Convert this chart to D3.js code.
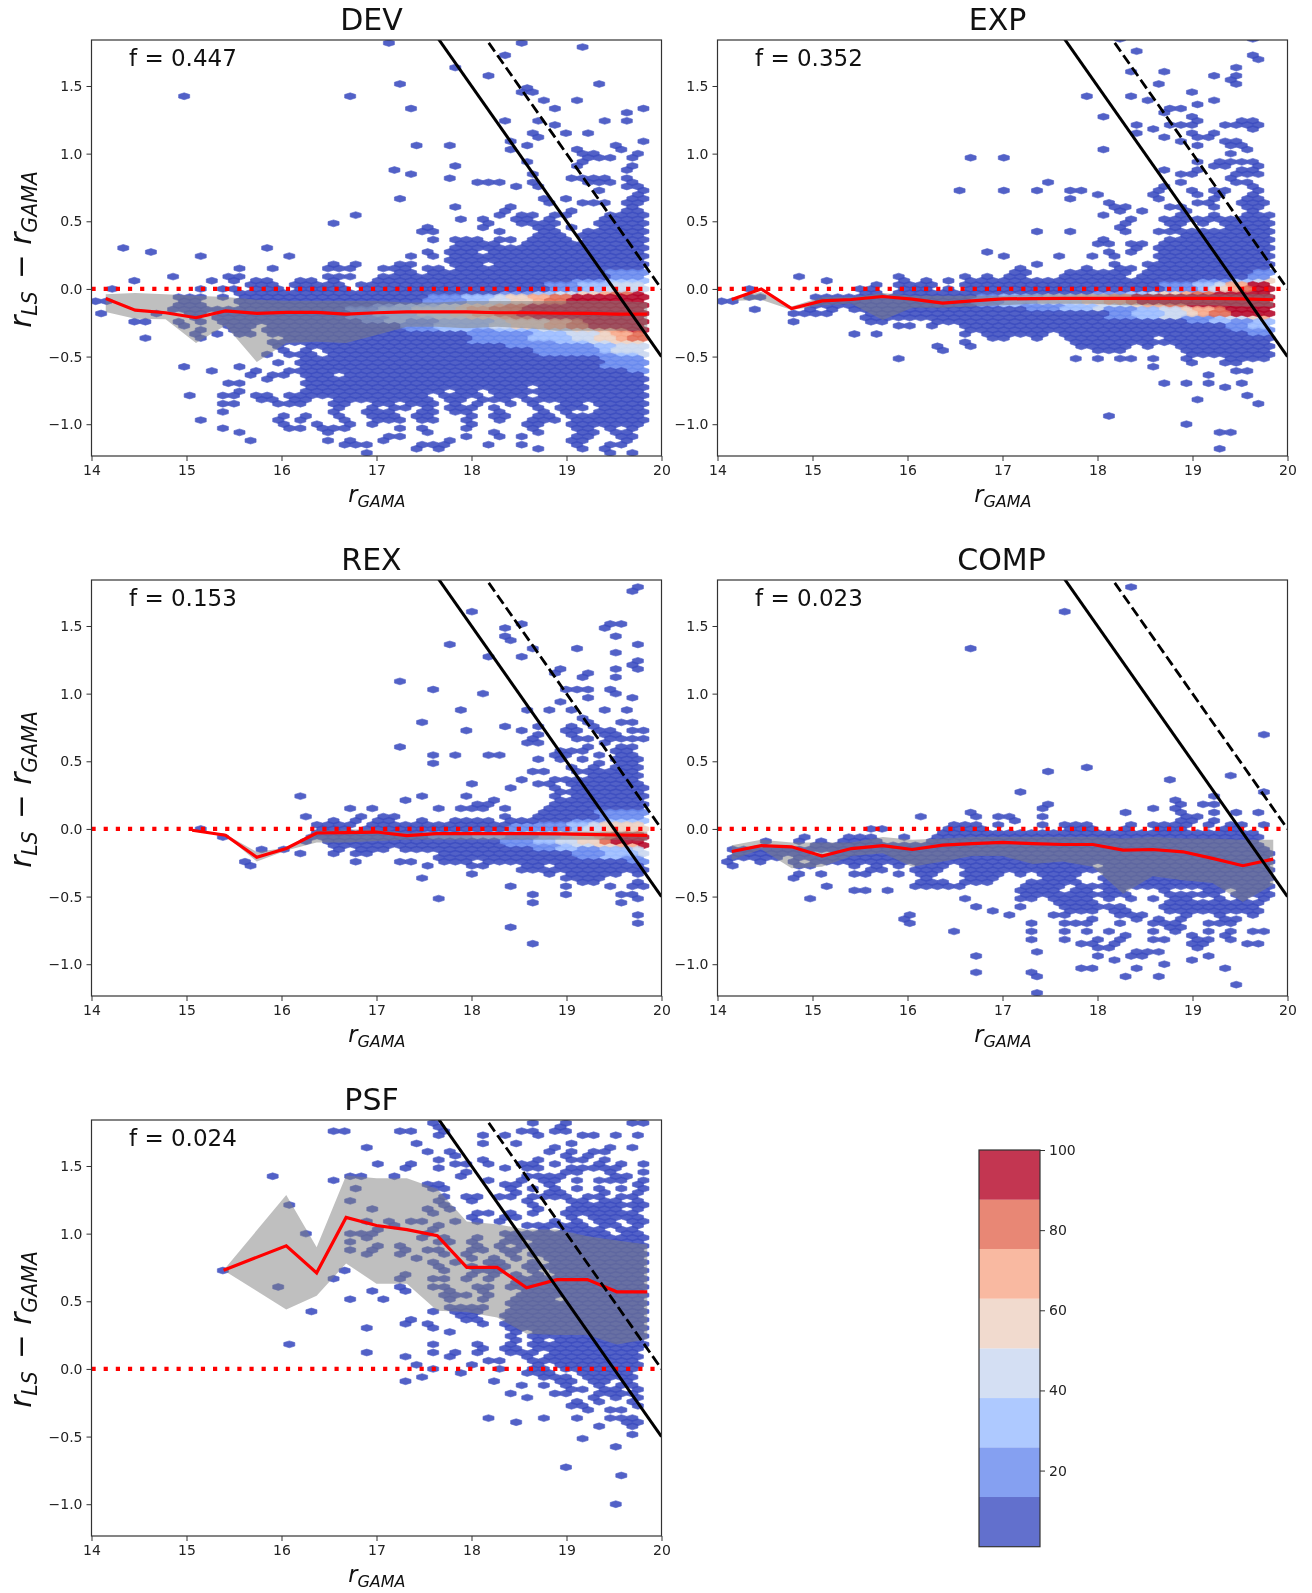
<!DOCTYPE html>
<html>
<head>
<meta charset="utf-8">
<script src="https://cdn.jsdelivr.net/npm/d3@7"></script>
<style>
body { margin: 0; background: white; }
svg { display: block; filter: blur(0.5px); }
text { font-family: "DejaVu Sans"; fill: #111; }
.tick text { font-size: 14px; fill: #222; }
</style>
</head>
<body>
<svg></svg>
<script>
// axis ticks
var xTicks = [14, 15, 16, 17, 18, 19, 20]
var yTicks = [-1, -0.5, 0, 0.5, 1, 1.5]
var cbTicks = [20, 40, 60, 80, 100]

// colorbar levels (coolwarm, 8 steps)
var cbEdges = [1, 13.4, 25.8, 38.1, 50.5, 62.9, 75.3, 87.6, 100]
var cbColors = ["#3b4cc0", "#6788ee", "#9abbff", "#c9d7f0", "#edd1c2", "#f7a889", "#e26952", "#b40426"]

var panelNames = ["DEV", "EXP", "REX", "COMP", "PSF"]
var panelFracs = ["f = 0.447", "f = 0.352", "f = 0.153", "f = 0.023", "f = 0.024"]

// x of the running median bins
var binX = [14.15, 14.46, 14.78, 15.1, 15.41, 15.74, 16.05, 16.37, 16.68, 17, 17.32, 17.63, 17.95, 18.27, 18.58, 18.9, 19.21, 19.53, 19.85]

// median and percentile band per panel, same length as the x list used with it
var devMed = [-0.07, -0.157, -0.176, -0.213, -0.162, -0.18, -0.174, -0.174, -0.186, -0.176, -0.169, -0.169, -0.169, -0.176, -0.176, -0.18, -0.18, -0.186, -0.186]
var devHi = [-0.04, -0.03, -0.04, -0.05, -0.06, -0.08, -0.09, -0.09, -0.09, -0.09, -0.1, -0.1, -0.09, -0.09, -0.09, -0.09, -0.09, -0.09, -0.1]
var devLo = [-0.17, -0.22, -0.225, -0.4, -0.27, -0.54, -0.4, -0.39, -0.4, -0.34, -0.28, -0.28, -0.29, -0.28, -0.29, -0.31, -0.31, -0.31, -0.31]

var expMed = [-0.078, 0, -0.145, -0.088, -0.078, -0.056, -0.076, -0.105, -0.088, -0.074, -0.071, -0.07, -0.07, -0.07, -0.07, -0.07, -0.07, -0.073, -0.08]
var expHi = [-0.07, -0.02, -0.13, -0.06, -0.06, -0.03, -0.05, -0.05, -0.05, -0.05, -0.04, -0.04, -0.04, -0.04, -0.04, -0.04, -0.04, -0.04, -0.04]
var expLo = [-0.09, -0.08, -0.155, -0.12, -0.11, -0.23, -0.14, -0.14, -0.13, -0.12, -0.11, -0.11, -0.11, -0.12, -0.12, -0.12, -0.12, -0.13, -0.13]

var rexX = [15.06, 15.41, 15.74, 16.05, 16.37, 16.68, 17, 17.32, 17.63, 17.95, 18.27, 18.58, 18.9, 19.21, 19.53, 19.85]
var rexMed = [-0.01, -0.047, -0.21, -0.145, -0.03, -0.027, -0.023, -0.05, -0.035, -0.035, -0.035, -0.035, -0.037, -0.04, -0.045, -0.047]
var rexHi = [-0.005, -0.04, -0.17, -0.14, -0.01, -0.005, -0.005, -0.03, -0.02, -0.02, -0.02, -0.02, -0.02, -0.02, -0.02, -0.02]
var rexLo = [-0.015, -0.05, -0.24, -0.16, -0.1, -0.1, -0.09, -0.08, -0.08, -0.08, -0.08, -0.08, -0.08, -0.08, -0.08, -0.09]

var compMed = [-0.167, -0.123, -0.132, -0.2, -0.145, -0.123, -0.152, -0.12, -0.108, -0.1, -0.108, -0.115, -0.115, -0.157, -0.152, -0.169, -0.218, -0.272, -0.223]
var compHi = [-0.12, -0.08, -0.1, -0.1, -0.1, -0.06, -0.08, -0.07, -0.06, -0.06, -0.06, -0.06, -0.06, -0.07, -0.06, -0.07, -0.07, -0.08, -0.08]
var compLo = [-0.23, -0.15, -0.29, -0.28, -0.2, -0.18, -0.28, -0.24, -0.2, -0.2, -0.26, -0.24, -0.28, -0.48, -0.35, -0.38, -0.4, -0.54, -0.41]

var psfX = [15.39, 16.05, 16.37, 16.68, 17, 17.32, 17.64, 17.95, 18.27, 18.58, 18.9, 19.22, 19.53, 19.85]
var psfMed = [0.73, 0.91, 0.71, 1.12, 1.06, 1.03, 0.985, 0.75, 0.75, 0.6, 0.66, 0.66, 0.57, 0.57]
var psfHi = [0.73, 1.285, 0.9, 1.43, 1.41, 1.41, 1.33, 1.09, 1.07, 1.03, 1.03, 0.98, 0.95, 0.92]
var psfLo = [0.73, 0.44, 0.54, 0.78, 0.63, 0.63, 0.43, 0.42, 0.38, 0.26, 0.25, 0.25, 0.18, 0.22]

// occupied hex cells: [y, x, x, [from, to], ...]
var devCells = [
 [1.81,17.17,18.55],[1.78,19.18],[1.72,18.37],[1.63,17.86],[1.57,18.2],[1.51,17.28,19.35],[1.48,18.59],[1.45,18.55,18.67],
 [1.42,14.93,16.77],[1.39,18.77,19.12],[1.33,17.4,18.89,19.81],[1.3,19.64],[1.24,18.37,18.72,19.4,19.64],[1.21,18.89],
 [1.15,18.66,19,19.23],[1.12,18.72],[1.09,18.42,19.81],[1.05,17.44,17.8,18.6,19.51],[1.02,18.43,19.12,19.58],
 [0.99,19.12,19.23,19.75],[0.96,19.17,19.35,19.46,19.69],[0.93,18.6,19.2],[0.9,17.78,19.12,19.69],[0.87,17.17,19.63],
 [0.85,17.38,18.66],[0.81,17.8,19.06,19.17,19.29,19.4,19.63],[0.78,18.12,18.23,18.35,18.7,19.23,19.4,19.46,19.69],
 [0.75,18.42,18.75,19.63,19.75],[0.72,19.35,19.81],[0.69,19.75],[0.66,17.28,18.8,19,19.7,19.81],
 [0.63,18.87,19.12,19.23,19.35,19.63,19.75],[0.6,17.78,18.43,19.7],[0.57,18.38,19.06,19.6,19.7],
 [0.54,16.83,18.3,18.55,18.6,18.85,18.95,19.75,19.81],[0.51,17.9,18.1,18.5,18.6,18.8,[19.4,19.8]],
 [0.48,16.6,18.13,18.55,18.6,18.75,18.9,[19.3,19.85]],
 [0.45,17.5,18.1,18.15,18.65,18.8,19,[19.3,19.85]],[0.41,17.45,17.55,18.3,[18.75,18.9],[19.15,19.85]],
 [0.366,17.55,17.85,18,18.1,18.3,18.45,[18.6,19.05],[19.15,19.85]],[0.32,[17.8,18.35],[18.5,19.85]],
 [0.29,14.3,15.9],[0.267,14.58],[0.235,15.1,16.13],
 [0.274,17.5,[17.75,18.1],[18.2,19.85]],[0.229,17.35,17.55,[17.75,18.2],[18.3,19.85]],
 [0.183,16.5,16.75,17.22,17.35,[17.8,18.1],[18.2,19.85]],
 [0.137,15.55,15.9,16.5,16.6,16.75,17.1,17.2,17.35,[17.5,17.7],[17.9,19.85]],
 [0.091,14.85,15.45,15.55,16.5,16.6,16.75,17.05,[17.15,17.45],[17.5,19.85]],
 [0.046,14.4,15.3,15.55,15.75,15.85,16.2,16.35,16.5,[16.95,17.6],[17.7,19.85]],
 [0,14.2,15.1,15.2,15.35,15.55,[15.65,16],[16.1,16.7],[16.8,19.85]],
 [-0.046,15.05,15.15,15.35,[15.55,19.85]],[-0.091,14.05,14.15,[14.9,15.2],[15.5,19.85]],
 [-0.137,14.9,15,15.2,[15.5,19.85]],[-0.183,14.05,14.65,[15,15.2],[15.3,19.85]],
 [-0.229,14.45,14.6,14.95,15.2,15.4,[15.55,19.85]],[-0.274,15,[15.1,15.2],[15.4,15.7],[15.8,19.85]],
 [-0.32,15.1,15.3,15.55,15.65,[15.85,19.85]],[-0.366,14.6,15.15,15.2,[16,19.85]],
 [-0.411,[15.9,16],[16.3,17],[17.1,17.45],[17.55,19.85]],
 [-0.456,16.07,16.3,[16.45,19.85]],[-0.488,15.9,16.12,16.24,16.3,[16.5,19.85]],[-0.52,16.2,16.3,[16.45,19.85]],
 [-0.55,15.97,16.18,16.24,[16.3,16.9],[17,19.85]],[-0.58,14.93,15.61,[16.2,16.35],[16.45,19.85]],
 [-0.61,15.21,15.77,16.12,16.25,[16.35,16.55],[16.65,16.85],[16.95,17.05],[17.15,17.35],[17.45,19.85]],
 [-0.64,15.73,15.89,15.97,[16.2,16.55],[16.65,16.9],[17,17.4],[17.5,17.85],[17.95,18],[18.1,19.85]],
 [-0.67,15.89,[16.2,16.6],[16.7,17.35],[17.4,17.7],[17.85,18.4],[18.5,19.85]],
 [-0.7,15.39,15.49,15.61,[16.2,16.6],[16.7,16.85],[17.05,17.2],[17.35,17.85],18,[18.1,18.6],[18.7,19.85]],
 [-0.73,[16.2,16.35],16.45,[16.6,16.8],[16.95,17.1],17.3,[17.4,17.6],17.75,[17.9,18.1],[18.2,18.6],[18.7,19.85]],
 [-0.76,15.61,[16.25,16.55],[16.6,17],17.1,[17.2,17.35],17.5,17.7,[17.85,18.1],[18.2,18.6],[18.7,19.85]],
 [-0.795,14.98,15.33,15.55,15.77,15.89,16.12,16.45,[16.65,16.85],[16.95,17.2],[17.25,17.4],17.7,17.85,18,[18.2,18.45],[18.65,19.85]],
 [-0.825,15.84,15.9,[16.05,16.2],16.3,[16.6,16.75],[16.95,17.2],[17.3,17.55],[17.75,17.9],18.1,18.4,18.6,18.75,[18.95,19.2],[19.3,19.85]],
 [-0.855,15.33,15.55,16.02,16.24,16.6,17.05,17.1,[17.25,17.4],[17.45,17.6],[17.75,17.9],18.1,18.4,18.6,[18.95,19.2],[19.3,19.85]],
 [-0.885,16.55,16.9,17.15,[17.45,17.6],17.85,18,18.25,18.75,18.95,19.05,19.35,[19.45,19.85]],
 [-0.92,15.33,16.5,16.9,17,17.15,[17.4,17.6],17.85,18,18.25,18.75,18.95,19.05,19.35,[19.45,19.85]],
 [-0.95,16.07,16.3,16.65,17,17.05,17.2,17.45,17.55,18,18.25,18.35,[18.7,18.85],[19,19.85]],
 [-0.98,15.1,16.02,16.24,16.7,17.04,17.16,17.26,17.45,17.6,18,18.25,18.35,18.7,18.85,[19,19.85]],
 [-1.01,16,16.07,16.4,16.75,16.98,18,18.55,18.65,[19,19.3],19.55,19.7,19.8],
 [-1.04,15.44,16.12,16.24,16.46,16.58,16.7,17.26,17.5,18,18.7,[19.1,19.3],19.5,19.7],
 [-1.067,15.61,16.53,17.54,18.2,18.7,19.15,19.25,19.55,19.65],[-1.096,17.16,17.26,18,18.35,18.55,19.15,19.25,19.55,19.65],
 [-1.128,15.73,16.53,16.75,17.1,17.8,[19.05,19.2],19.6,19.65],[-1.158,16.7,16.81,16.93,17.49,17.6,17.7,18.2,18.55,19.5,19.6],
 [-1.19,17.44,17.61,18.7,19.15,19.45],[-1.215,16.93,19.45,19.7]
]

var expCells = [
 [1.84,18.21,19.68],[1.76,18.38],[1.73,19.68],[1.7,19.74],[1.64,19.51],[1.61,18.33,18.66],[1.58,19.17,19.51],[1.545,19.45],[1.515,18.61,19.51],
 [1.46,19.05],[1.425,17.87,18.33],[1.395,18.49,19.28],[1.365,19.11],[1.335,18.71,18.82],[1.3,18.66],[1.275,18.04,19.05],
 [1.245,19.11,19.56,19.68],[1.21,18.38,18.71,18.82,19.05,19.4,19.51,19.62,19.74],[1.18,18.55,19.68],[1.15,18.38,19.05,19.17,19.28],
 [1.12,18.76,19.11,19.22],[1.09,18.82,19.4,19.51],[1.06,19.11,19.45,19.56],[1.03,18.04,19.62],[1,19.45],[0.96,16.68,17.03],
 [0.94,19,19.11,19.34,19.45,19.56,19.68],[0.91,19.28,19.4,19.74],[0.88,18.76,19,19.11,19.56,19.68],[0.85,18.82,19.05,19.51,19.62,19.74],
 [0.82,19.45],[0.785,17.47,18.82,19.51,19.62],[0.755,18.76,19.68],[0.725,16.57,17.03,17.36,17.69,17.82,18.61,19.05,19.17,19.4,19.74],
 [0.695,17.98,18.55,19,19.34,19.68],[0.665,17.69,18.61,19.28,19.62,19.74],[0.635,18.1,19,19.22,19.56,19.68,19.79],
 [0.605,18.15,18.25,18.71,18.82,19.17,19.56,19.74],[0.575,18.21,18.43,18.89,19.68],[0.545,18.04,18.82,19.28],
 [0.515,18.33,18.76,18.94,19.05,19.17,19.4,[19.5,19.85]],
 [0.5,18.3,18.85,[19,19.2],19.3,[19.5,19.85]],[0.47,18.25,18.75,18.85,[19.5,19.85]],
 [0.45,18.2,[18.75,18.85],[19.3,19.85]],[0.41,17.4,17.7,18.3,18.7,[18.85,19.85]],[0.366,18.1,18.75,[18.85,19.85]],
 [0.32,18,18.15,[18.35,18.5],18.7,18.8,[18.9,19.85]],[0.274,16.8,18.1,18.3,18.4,[18.6,19.85]],
 [0.229,16.99,17.6,18,18.15,[18.6,19.85]],[0.183,17.4,18.15,18.5,[18.6,19.85]],[0.137,17.2,17.9,18.2,18.3,[18.55,19.85]],
 [0.091,14.82,15.95,16.65,16.8,[17.05,17.3],[17.6,18.3],[18.45,19.85]],[0.046,15.2,15.95,16.25,16.4,[16.65,19.85]],
 [0,14.35,15.5,[15.6,15.7],[15.9,16.3],16.4,[16.6,19.85]],[-0.046,14.3,14.5,15.5,[15.55,15.7],[15.85,19.85]],
 [-0.091,14.1,14.2,[15,19.85]],[-0.137,14.4,15,[15.1,15.3],[15.4,15.7],[15.9,19.85]],
 [-0.183,14.75,14.9,15.05,15.15,[15.55,19.85]],[-0.229,14.85,15.6,15.75,[16.25,16.8],[16.9,19.85]],
 [-0.274,15.9,16.05,[16.2,16.3],[16.6,19.85]],[-0.32,15.45,15.67,[16.55,16.65],[16.8,17.5],[17.6,19.85]],
 [-0.366,[16.55,16.65],16.9,17.03,17.4,[17.7,18.6],[18.65,19.85]],[-0.411,16.35,16.7,[17.75,18.3],18.5,[18.8,19.85]],
 [-0.457,16.4,18,18.1,18.25,[18.9,19.85]],[-0.503,15.87,18.25,18.3,18.4,18.55,[18.9,19.05],19.5,19.6],
 [-0.52,17.75,18,19.4,19.55,19.7,19.8],[-0.548,19,19.3,19.4,19.5],[-0.59,18.55],[-0.61,19.5,19.6],[-0.64,19.12],
 [-0.7,18.65,18.9,19.2,19.55],[-0.73,19.3],[-0.8,19.6],[-0.82,19.1],[-0.85,19.75],[-0.95,18.1],[-1,18.9],[-1.05,19.45],[-1.07,19.3],[-1.18,19.3]
]

var rexCells = [
 [1.78,19.7],[1.76,19.65],[1.6,18.05],[1.52,19.5],[1.5,18.5,19.55],[1.47,18.3,19.45],[1.42,18.4,19.5],[1.39,18.45],[1.36,17.8,19.7],
 [1.34,18.6,19.1],[1.31,19.5],[1.28,18.15,18.55],[1.23,19.7,19.75],[1.2,19.7],[1.17,18.9,19.5,19.75],[1.15,18.85,19.2],[1.12,19.15,19.5],
 [1.1,17.25],[1.02,17.65,19.05,19.15,19.25,19.45],[1,18.1,19.5],[0.97,19.25,19.7],[0.94,18.95],[0.89,17.9,19.65],
 [0.87,18.6,18.85,19.05,19.1,19.35],[0.83,19.15],[0.8,17.48,19.2],[0.78,19.25,19.6,19.7],[0.76,18.4,18.7,19.05,19.25],
 [0.73,18,18.55,18.95,19.15,19.3,19.35,19.5,19.7,19.8],[0.7,18.7,19.05,19.1,19.4,19.55],[0.67,18.65,18.7,19.15,19.25,19.5,19.6,19.7,19.8],
 [0.65,18.55,18.75,19.4],[0.62,19.6,19.65,19.75],[0.6,17.2,19.2,19.55,19.7],[0.57,18.9,19.05,19.1,19.2,[19.5,19.7]],
 [0.54,17.65,17.85,18.15,18.25,18.9,19.05,19.4,[19.5,19.7]],[0.51,18.65,18.9,19.2,19.5,19.7],[0.49,17.65,19.4,[19.55,19.7]],
 [0.457,19,[19.25,19.3],[19.5,19.8]],[0.43,18.8,19.1,19.2,19.3,19.4,[19.5,19.8]],[0.41,18.6,18.7,[19.2,19.8]],
 [0.366,18.55,18.9,19,19.1,[19.2,19.75]],[0.33,18.05,18.65,18.7,18.8,[19.1,19.8]],[0.3,18.4,18.45,18.9,[19,19.85]],
 [0.274,18.9,[19,19.85]],[0.229,16.25,17.5,17.95,18.9,[19,19.85]],[0.2,17.35,18.2,[18.85,19.85]],
 [0.17,18.05,18.15,18.2,[18.95,19.85]],[0.137,16.7,17,17.6,17.7,17.9,18,18.1,18.35,[18.75,19.85]],
 [0.091,16.3,16.83,17.05,17.15,[18.3,18.4],[18.7,19.85]],[0.046,16.55,16.8,[17,17.2],17.5,[17.75,18.2],[18.3,19.85]],
 [0,15.1,[16.35,16.75],[16.85,19.85]],[-0.046,15.4,16.3,[16.35,19.85]],[-0.091,16.2,[16.45,19.85]],
 [-0.137,15.75,16.05,16.6,[16.8,17.1],[17.3,19.85]],[-0.183,16.2,16.5,16.8,16.9,[17.6,19.85]],
 [-0.229,15.6,16.8,17.3,17.4,[17.7,17.95],[18.1,19.85]],[-0.274,15.65,17.55,18,18.1,[18.5,18.75],[18.85,19.85]],
 [-0.32,18.05,[18.75,18.9],[19.05,19.6],[19.65,19.8]],[-0.35,17.5],[-0.366,19,[19.1,19.35],[19.7,19.8]],[-0.411,19.05,19.65,19.75],
 [-0.43,18.45,19.5,19.75,19.8],[-0.47,18.65,19.55,19.6],[-0.49,18.95,19.65],[-0.51,17.65,19.75],[-0.54,19.6],[-0.56,18.65],
 [-0.64,19.8],[-0.7,19.8],[-0.74,18.4],[-0.85,18.6]
]

var compCells = [
 [1.8,18.35],[1.62,17.63],[1.32,16.65],[0.71,19.7],[0.44,17.94],[0.41,17.43],[0.38,19.45],[0.35,18.78],[0.26,17.15,19.75],[0.23,19.2],
 [0.2,18.85],[0.17,17.5,18.9,19.1,19.2,19.25],[0.14,17.45,18.55,18.85],[0.11,16.65,18.25,18.9,19.2,19.45,19.7],
 [0.08,16.1,16.7,16.95,17.05,17.45,18.9,19.05],[0.05,17.15,18.85,18.95,19.25],
 [0.02,16.45,16.95,17.45,17.7,17.8,17.9,18.3,18.55,18.85,19.2,19.35,19.5,19.75],
 [0,15.6,15.7,[16.4,16.8],[17.6,18],18.3,[18.55,18.95],19.35,19.5],
 [-0.046,14.9,15.5,15.6,15.95,[16.35,19.75]],[-0.091,14.5,14.85,15.05,[15.3,15.7],[16.2,19.75]],
 [-0.137,14.3,14.4,14.5,14.6,14.8,[15,19.8]],[-0.183,[14.15,14.7],[14.75,15],[15.2,19.85]],
 [-0.229,14.15,14.4,14.5,14.8,[15,19.85]],[-0.274,14.2,14.85,14.95,15.4,[15.6,15.75],15.9,[16.05,16.4],[16.6,18],[18.1,19.85]],
 [-0.32,14.85,15.1,15.45,15.55,15.9,16.15,16.3,16.6,[16.75,17],17.2,[17.35,17.65],[18.05,19.85]],
 [-0.366,14.75,14.85,16.25,[16.55,16.95],[17.4,17.8],[18.05,19.85]],[-0.411,15.1,[16.05,16.45],16.55,[17.3,17.7],17.85,[18.1,19.85]],
 [-0.457,15.4,15.5,15.75,[17.15,17.65],[17.75,17.95],[18.05,18.35],[18.65,18.75],[19.1,19.3],[19.45,19.85]],
 [-0.503,15,17.35,[17.55,18],18.15,[18.3,18.4],18.6,[18.75,19],19.3,19.55,19.7,19.8],
 [-0.525,15,16.65,17.15,17.25,[17.5,18],18.15,18.4,18.55,19.3,19.55,19.7],[-0.57,16.7,17.2,[17.6,18.05],18.1,18.25,[18.7,19.75]],
 [-0.6,16.95,18,18.2,18.35,18.8,[18.85,18.95],19.5,19.6],[-0.64,16.05,17.05,17.5,17.6,18.2,18.3,18.45,19.3,19.6,19.65],
 [-0.68,15.95,17.9,18,18.4,18.65,18.85,18.9,19.35,19.45],[-0.71,16,17.35,17.7,17.8,17.9,18.25,18.6,[18.7,18.9],19.2,19.3,19.4],
 [-0.75,18.15,18.6,18.85,19.45],[-0.77,16.47,17.35,17.6,17.85,18.1,19.15,19.6,19.7,19.75],[-0.8,18.35,18.95,19.3],
 [-0.83,17.25,17.6,17.7,18.05,18.25,18.6,18.7,19,19.2,19.35],[-0.86,17.8,18,18.2,19,19.1,19.55,19.7],[-0.89,18,18.15,19.05],
 [-0.92,17.4,18.45,18.55,18.65],[-0.95,16.7,17.95,18.4,18.5,19.15],[-0.98,18.2,18.95],[-1.01,18.7],[-1.04,17.85,18,18.45,19.35],
 [-1.07,16.7,17.25],[-1.1,17.4,18.3,18.65],[-1.16,19.45],[-1.215,17.4]
]

var psfCells = [
 [1.83,17.56,18.97],[1.815,18.67,19.65,19.77],[1.785,17.62,18.98],[1.76,16.55,16.65,17.25,17.33,17.67,18.58,18.67,18.93,19.03],
 [1.73,17.65,18.09,18.35,18.7,19.16,19.25,19.33,19.5,19.7],[1.67,17.46,18.09,18.44,19.07],[1.64,16.87,18.93,19.47,19.65],
 [1.61,17.55,17.81,18.81,19.07,19.33,19.42],[1.585,17.85,19.02,19.2],[1.56,17.64,18.09,18.7,19.07,19.16,19.42],
 [1.53,17.05,17.42,17.88,18.21,18.67,18.93,19.37],[1.5,17.91,18.53,19.33,19.56,19.8],
 [1.47,17.25,17.33,17.6,18.31,18.58,18.76,19.07,19.16,19.3,19.39,19.53],[1.445,18,18.99,19.1,19.5,19.77],
 [1.43,16.75],[1.415,15.9,16.87,17.15,17.86,18.62,18.7,18.78,18.95,19.56,19.65],
 [1.39,16.58,18.18,18.53,18.76,18.9,19.16,19.33,19.44,19.6,19.77],[1.36,17.51,17.6,18.31,18.5,18.78,19.7],
 [1.33,16.75,17.55,17.6,17.7,18.44,18.66,18.88,19.07,19.3,19.6,19.79],[1.3,18.46,18.8,18.93,19.45,19.79],
 [1.275,17.72,18,18.09,18.35,18.44,18.62,18.76,18.86,18.97,19.25,19.33,19.55,19.7],
 [1.245,16.75,17.6,18.05,18.55,19,19.15,19.35,19.5,19.75],[1.215,16.13,17.7,18.6,18.7,[19.05,19.45],19.55,19.65,19.78],
 [1.19,16.9,17.51,17.79,18.65,[19.05,19.2],19.35,[19.45,19.55],19.8],[1.16,17.55,18.1,18.2,18.4,18.6,[19.05,19.55],19.75],
 [1.13,18.05,18.35,18.5,[18.95,19.1],19.3,[19.5,19.8]],[1.1,16.9,17.1,17.37,17.5,17.83,18.05,18.3,18.9,[19.3,19.5],19.65,19.8],
 [1.07,17.2,17.69,18.6,18.88,[19.05,19.2],19.35,[19.45,19.55],19.7],[1.045,17.05,17.63,[18.7,18.85],[19.05,19.25],19.4,19.55,[19.65,19.8]],
 [1.015,16.9,18.55,18.65,[18.9,19.25],19.35,[19.6,19.8]],[0.985,16.2,16.75,16.85,17.55,[18.3,18.6],[18.65,19.3],19.4,[19.6,19.8]],
 [0.96,16.95,17.45,17.7,18.1,18.45,18.65,[18.7,19.85]],
 [0.94,16.75,17.65,17.75,18,18.3,18.5,[18.75,19.85]],[0.91,17.05,17.2,18.05,18.35,[18.5,19.85]],
 [0.89,16.75,16.9,17.3,17.5,17.65,17.95,18.15,18.35,18.45,[18.6,19.85]],[0.85,16.85,17.3,17.7,18,18.4,18.6,[18.65,19.85]],
 [0.82,17.4,18.05,18.2,18.45,[18.75,19.85]],[0.8,17.55,17.65,17.8,18.15,18.35,18.7,[18.8,19.85]],[0.76,17.6,17.95,18.2,18.3,18.55,[18.7,19.85]],
 [0.73,15.39,16.7,17.75,18.05,18.15,18.35,18.7,[18.85,19.85]],[0.69,17.3,18,18.25,18.5,[18.6,18.8],[18.9,19.85]],
 [0.66,16.55,17.2,17.55,17.7,18,18.2,[18.45,19.85]],[0.62,16,17.3,17.6,17.65,17.75,18.1,18.2,18.4,[18.55,19.85]],
 [0.59,17,17.3,17.75,18.15,[18.5,19.85]],[0.55,17.75,17.85,18,18.15,[18.5,19.85]],[0.5,16.7,17.05,17.8,18.15,[18.45,18.85],[18.95,19.85]],
 [0.46,17.75,17.9,18,18.1,[18.4,19.85]],[0.42,16.3,17.6,[17.8,18.1],[18.3,19.85]],[0.37,17.4,17.95,18.05,18.1,[18.35,18.9],[18.95,19.85]],
 [0.33,17.35,17.55,18.15,[18.35,19.85]],[0.31,17.65,16.87,[18.4,19.85]],[0.28,17.8,18.45,[18.6,19.85]],
 [0.25,18.45,[18.7,19.8]],[0.22,18.5,[18.62,18.75],[18.9,19.85]],[0.19,16.05,17.55,18.09,18.44,[18.6,18.7],[18.85,19.1],[19.2,19.85]],
 [0.165,18.13,18.31,18.45,[18.6,18.8],[18.85,19.85]],[0.135,17.55,17.82,18.09,18.47,[18.6,18.7],[18.8,18.95],[19.05,19.35],[19.45,19.8]],
 [0.11,16.88,17.6,18.48,18.55,18.6,[18.8,19.05],[19.15,19.3],19.45,[19.55,19.7]],[0.08,17.28,17.82,18.55,18.6,[18.8,19.8]],
 [0.05,18.21,18.31,18.67,18.75,[18.85,19.8]],[0.02,17.37,18,18.72,[18.9,19.8]],[-0.01,17.6,18.31,18.65,18.8,19,19.1,[19.2,19.7]],
 [-0.035,17.9,18.62,18.75,18.85,19.15,[19.25,19.75]],[-0.06,17.5,18.75,18.9,19,19.25,19.4,[19.5,19.75]],
 [-0.09,17.28,18.18,18.95,19.05,19.3,19.45,19.6],[-0.12,18.58,18.76,18.98,19.35,19.6,19.75],[-0.15,19,19.15,19.4,[19.5,19.6],19.78],
 [-0.18,18.4,18.85,19.03,[19.3,19.75]],[-0.205,18.53,18.62,19.25,19.55,19.75,19.8],[-0.235,19.1,19.4,19.65,19.7],[-0.26,19.07,19.16,19.78],
 [-0.29,19.2,19.47,19.56],[-0.35,18.22,18.76,19.12,19.47,19.56,19.65],[-0.38,18.45,19.62,19.8],[-0.41,19.39,19.65],[-0.49,19.7],
 [-0.52,19.2],[-0.575,19.56],[-0.72,18.98],[-0.8,19.56],[-1,19.52]
]

// denser cells: [y, x where colour step 1 starts, step 2 starts, ...]
var devHeat = [
 [0.091,19.45],[0.046,19.1,19.4],[0,18.8,19.15,19.45],
 [-0.046,18.3,18.7,18.9,19.1,19.3,19.5,19.65],[-0.091,17.5,17.9,18.2,18.4,18.6,18.8,19],
 [-0.137,16.9,17.2,17.6,17.9,18.2,18.4,18.6],[-0.183,16.7,17,17.4,17.8,18,18.2,18.5],
 [-0.229,16.8,17.1,17.6,17.9,18.3,18.4,18.6],[-0.274,17.3,17.6,18.2,18.4,18.8,19,19.2],
 [-0.32,18,18.2,18.7,19,19.3,19.5,19.6],[-0.366,18,18.6,19,19.3,19.5,19.65],
 [-0.411,18.4,18.9,19.2,19.5],[-0.457,18.7,19.3,19.5],[-0.503,19.3,19.55,19.75],[-0.548,19.4],[-0.594,19.6]
]
var expHeat = [
 [0.091,19.6],[0.046,19.1,19.4,19.6,19.75],[0,18.7,19,19.2,19.3,19.4,19.55,19.6],
 [-0.046,18,18.3,18.5,18.7,18.9,19.05,19.2],[-0.091,16.7,17,17.4,17.8,18.1,18.3,18.4],
 [-0.137,17.2,17.6,18,18.3,18.5,18.7,18.9],[-0.183,18.1,18.4,18.7,18.9,19,19.2,19.4],
 [-0.229,18.9,19.2,19.4,19.6,19.65],[-0.274,19.4,19.6],[-0.32,19.6]
]
var rexHeat = [
 [0.091,19.3],[0.046,19,19.4],[0,18.4,19,19.2,19.4],[-0.046,17.5,18,18.5,18.9,19.3,19.5],
 [-0.091,18.3,18.7,18.9,19.1,19.3,19.4,19.5],[-0.137,18.6,18.9,19.1,19.3,19.55,19.7,19.75],
 [-0.183,19.1,19.4,19.7],[-0.229,19.6]
]
var compHeat = []
var psfHeat = []

var panels = [
  {cells: devCells, heat: devHeat, x: binX, med: devMed, hi: devHi, lo: devLo, spread: 0.0228},
  {cells: expCells, heat: expHeat, x: binX, med: expMed, hi: expHi, lo: expLo, spread: 0.0228},
  {cells: rexCells, heat: rexHeat, x: rexX, med: rexMed, hi: rexHi, lo: rexLo, spread: 0.0228},
  {cells: compCells, heat: compHeat, x: binX, med: compMed, hi: compHi, lo: compLo, spread: 0.0228},
  {cells: psfCells, heat: psfHeat, x: psfX, med: psfMed, hi: psfHi, lo: psfLo, spread: 0.012}
]

var dimensions = {
  width: 1312, height: 1593,
  plotW: 570, plotH: 416,
  lefts: [91.5, 717.5, 91.5, 717.5, 91.5],
  tops: [40, 40, 580, 580, 1120],
  titleShift: [-5, -5, -5, -1, -5]
}

// hexbin lattice spacing in data units
var binDx = 0.1165
var binDy = 0.0303
var binRight = 19.81

function rowShift(k) { return k & 1 ? binDx / 2 : 0 }

function buildCells(panel) {
  var out = new Map()
  function put(k, i, level) {
    if (i < 0) i = 0
    out.set(k + ":" + i, {
      x: binRight - rowShift(k) - i * binDx,
      y: k * binDy,
      level: level
    })
  }
  function rowsAround(y) {
    return d3.range(Math.round((y - panel.spread) / binDy), Math.round((y + panel.spread) / binDy) + 1)
  }
  panel.cells.forEach(row => {
    row.slice(1).forEach(s => {
      if (Array.isArray(s)) {
        // a run of cells, thick enough to close up with the next row read
        rowsAround(row[0]).forEach(k => {
          var off = binRight - rowShift(k)
          var i0 = Math.ceil((off - s[1]) / binDx - 1e-6)
          var i1 = Math.floor((off - s[0]) / binDx + 1e-6)
          for (var i = i0; i <= i1; i++) put(k, i, 0)
        })
      } else {
        var k = Math.round(row[0] / binDy)
        put(k, Math.round((binRight - rowShift(k) - s) / binDx), 0)
      }
    })
  })
  panel.heat.forEach(row => {
    rowsAround(row[0]).forEach(k => {
      var off = binRight - rowShift(k)
      for (var i = 0; off - i * binDx >= row[1]; i++) {
        var x = off - i * binDx
        put(k, i, row.slice(1).filter(t => t <= x).length)
      }
    })
  })
  return Array.from(out.values())
}

var svg = d3.select("svg")
  .attr("width", dimensions.width)
  .attr("height", dimensions.height)

function addMathLabel(sel, parts, big, small) {
  parts.forEach(p => {
    sel.append("tspan")
      .attr("font-style", p[2] ? "normal" : "italic")
      .attr("font-size", p[1] ? small : big)
      .attr("dy", p[1] ? small * 0.32 : 0)
      .text(p[0])
    if (p[1]) sel.append("tspan").attr("font-size", big).attr("dy", -small * 0.32).text("\u200a")
  })
}

panels.forEach((panel, n) => {
  var left = dimensions.lefts[n]
  var top = dimensions.tops[n]
  var g = svg.append("g").attr("transform", `translate(${left},${top})`)

  var xScale = d3.scaleLinear().domain([14, 20]).range([0, dimensions.plotW])
  var yScale = d3.scaleLinear().domain([-1.235, 1.84]).range([dimensions.plotH, 0])

  g.append("clipPath").attr("id", "clip" + n)
    .append("rect").attr("width", dimensions.plotW).attr("height", dimensions.plotH)

  var plot = g.append("g").attr("clip-path", `url(#clip${n})`)

  // hexes drawn with edges so neighbours overlap like a hexbin collection
  // a bit taller than the lattice needs, the cells in the picture read about 7px high
  var sx = xScale(14 + binDx) - xScale(14)
  var sy = yScale(0) - yScale(2 * binDy)
  var hexPts = [[.5, -.5], [.5, .5], [0, 1], [-.5, .5], [-.5, -.5], [0, -1]]
    .map(p => [p[0] * sx, p[1] * sy * 0.42])
  var hexPath = d3.line()(hexPts) + "Z"

  plot.append("g").selectAll("path")
    .data(buildCells(panel))
    .enter().append("path")
    .attr("d", hexPath)
    .attr("transform", d => `translate(${xScale(d.x)},${yScale(d.y)})`)
    .attr("fill", d => cbColors[d.level])
    .attr("stroke", d => cbColors[d.level])
    .attr("stroke-width", 0.6)
    .attr("opacity", 0.88)

  // percentile band
  var area = d3.area()
    .x((d, i) => xScale(panel.x[i]))
    .y0((d, i) => yScale(panel.lo[i]))
    .y1((d, i) => yScale(panel.hi[i]))
  plot.append("path").attr("d", area(panel.x))
    .attr("fill", "gray").attr("opacity", 0.5)

  // median
  var line = d3.line()
    .x((d, i) => xScale(panel.x[i]))
    .y((d, i) => yScale(panel.med[i]))
  plot.append("path").attr("d", line(panel.x))
    .attr("fill", "none").attr("stroke", "#f00").attr("stroke-width", 3.2)

  // zero line
  plot.append("line")
    .attr("x1", xScale(14)).attr("x2", xScale(20))
    .attr("y1", yScale(0)).attr("y2", yScale(0))
    .attr("stroke", "#f00").attr("stroke-width", 4.2).attr("stroke-dasharray", "4.2 7.95")

  // magnitude limit lines, r_LS = 19.5 and r_LS = 20
  var limit = d3.line().x(d => xScale(d[0])).y(d => yScale(d[1]))
  plot.append("path").attr("d", limit([[17, 2.5], [20, -0.5]]))
    .attr("fill", "none").attr("stroke", "#000").attr("stroke-width", 3)
  plot.append("path").attr("d", limit([[18, 2], [20, 0]]))
    .attr("fill", "none").attr("stroke", "#000").attr("stroke-width", 2.8)
    .attr("stroke-dasharray", "10.5 4.5")

  var xAxis = d3.axisBottom(xScale).tickValues(xTicks).tickSize(5).tickPadding(4).tickFormat(d3.format("d"))
  var yAxis = d3.axisLeft(yScale).tickValues(yTicks).tickSize(5).tickPadding(4)
    .tickFormat(d => d3.format(".1f")(d).replace("-", "\u2212"))

  g.append("g").attr("transform", `translate(0,${dimensions.plotH})`).call(xAxis)
    .call(a => a.select(".domain").remove())
    .selectAll("line").attr("stroke", "#333")
  g.append("g").call(yAxis)
    .call(a => a.select(".domain").remove())
    .selectAll("line").attr("stroke", "#333")

  g.append("rect").attr("width", dimensions.plotW).attr("height", dimensions.plotH)
    .attr("fill", "none").attr("stroke", "#333").attr("stroke-width", 1.2)

  g.append("text")
    .attr("x", dimensions.plotW / 2 + dimensions.titleShift[n]).attr("y", -10)
    .attr("text-anchor", "middle").attr("font-size", 30)
    .text(panelNames[n])

  g.append("text").attr("x", 37.5).attr("y", 26).attr("font-size", 23).attr("fill", "#111")
    .text(panelFracs[n])

  var xl = g.append("text")
    .attr("x", dimensions.plotW / 2 + 1.5).attr("y", dimensions.plotH + 46)
    .attr("text-anchor", "middle")
  addMathLabel(xl, [["r", false], ["GAMA", true]], 22.5, 16)

  if (left < 100) {
    var yl = g.append("text")
      .attr("transform", `translate(-61,${dimensions.plotH / 2}) rotate(-90)`)
      .attr("text-anchor", "middle")
    addMathLabel(yl, [["r", false], ["LS", true], [" \u2212 ", false, true], ["r", false], ["GAMA", true]], 29.5, 20.5)
  }
})

// colorbar
var cbScale = d3.scaleLinear().domain([1, 100]).range([1546.7, 1150])
var cb = svg.append("g").attr("transform", "translate(979,0)")
cb.selectAll("rect.level")
  .data(cbColors)
  .enter().append("rect").attr("class", "level")
  .attr("width", 61)
  .attr("y", (d, i) => cbScale(cbEdges[i + 1]))
  .attr("height", (d, i) => cbScale(cbEdges[i]) - cbScale(cbEdges[i + 1]))
  .attr("fill", d => d).attr("opacity", 0.8)
cb.append("rect")
  .attr("y", cbScale(100)).attr("width", 61).attr("height", cbScale(1) - cbScale(100))
  .attr("fill", "none").attr("stroke", "#333").attr("stroke-width", 1.2)
cb.append("g").attr("transform", "translate(61,0)")
  .call(d3.axisRight(cbScale).tickValues(cbTicks).tickSize(5).tickPadding(4))
  .call(a => a.select(".domain").remove())
  .selectAll("line").attr("stroke", "#333")
</script>
</body>
</html>
